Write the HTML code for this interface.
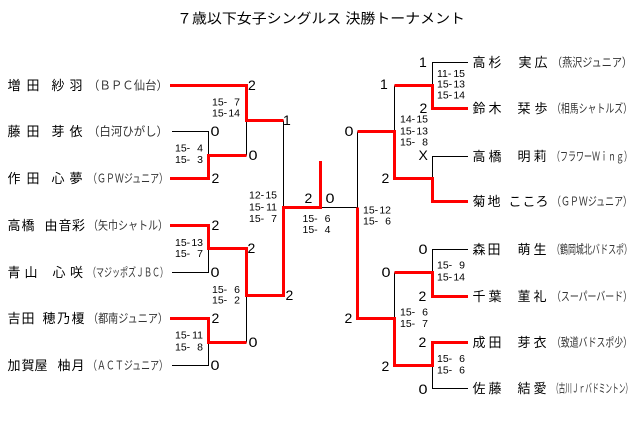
<!DOCTYPE html>
<html><head><meta charset="utf-8"><style>
html,body{margin:0;padding:0;background:#fff;}
svg{display:block;}
.t{font-family:"Liberation Sans","Noto Sans CJK JP",sans-serif;}
.nm{font-family:"Liberation Sans","Noto Sans CJK JP",sans-serif;font-size:13px;fill:#000;}
.cl{font-family:"Liberation Sans","Noto Sans CJK JP",sans-serif;font-size:12px;fill:#333;}
.sc{font-family:"Liberation Sans",sans-serif;font-size:10.5px;fill:#000;}
.dg{font-family:"Liberation Sans",sans-serif;font-size:14px;fill:#000;}
</style></head><body>
<svg width="640" height="429" viewBox="0 0 640 429" xmlns="http://www.w3.org/2000/svg">
<rect width="640" height="429" fill="#fff"/>
<text class="t" x="177" y="23.5" font-size="14" textLength="288" lengthAdjust="spacingAndGlyphs">７歳以下女子シングルス 決勝トーナメント</text>

<!-- black lines -->
<g fill="none" stroke="#000" stroke-width="1">
<path d="M172 131.5 H208.5 V155.5"/>
<path d="M246.5 120.5 V155.5"/>
<path d="M283.5 120.5 V207.5"/>
<path d="M172 272.5 H208.5 V248.5"/>
<path d="M172 365.5 H208.5 V342.5"/>
<path d="M246.5 295.5 V342.5"/>
<path d="M320.5 207.5 H357.5 V131.5"/>
<path d="M468 62.5 H432.5 V85.5"/>
<path d="M394.5 85.5 V131.5"/>
<path d="M468 156.5 H432.5 V178.5"/>
<path d="M468 249.5 H432.5 V272.5"/>
<path d="M394.5 272.5 V318.5"/>
<path d="M468 388.5 H432.5 V365.5"/>
</g>
<!-- red lines -->
<g fill="none" stroke="#ff0000" stroke-width="3" stroke-linejoin="miter">
<path d="M170 85.5 H246.5 V120.5 H283.5"/>
<path d="M170 178.5 H208.5 V155.5 H246.5"/>
<path d="M170 225.5 H208.5 V248.5 H246.5 V295.5 H283.5 V207.5 H320.5 V161"/>
<path d="M170 318.5 H208.5 V342.5 H246.5"/>
<path d="M468 108.5 H432.5 V85.5 H394.5"/>
<path d="M468 201.5 H432.5 V178.5 H394.5 V131.5 H357.5"/>
<path d="M468 296.5 H432.5 V272.5 H394.5"/>
<path d="M468 342.5 H432.5 V365.5 H394.5 V318.5 H357.5 V207.5"/>
</g>

<!-- left names -->
<text class="nm" x="7.5 26.5 40 51.5 69.5" y="90">増田 紗羽</text>
<text class="nm" x="7.5 26.5 40 51.5 69.5" y="136">藤田 芽依</text>
<text class="nm" x="7.5 26.5 40 51.5 69.5" y="183">作田 心夢</text>
<text class="nm" x="7.5 21.5 35 44.5 58.5 72" y="230">高橋 由音彩</text>
<text class="nm" x="7.5 24.5 40 52.5 70" y="277">青山 心咲</text>
<text class="nm" x="7.5 21.5 35 42.5 57 71.5" y="323">吉田 穂乃榎</text>
<text class="nm" x="7.5 21.5 34.5 48 57.5 71.5" y="370">加賀屋 柚月</text>

<!-- left clubs -->
<text class="cl" x="88" y="89.5" textLength="80" lengthAdjust="spacingAndGlyphs">（ＢＰＣ仙台）</text>
<text class="cl" x="88" y="135.5" textLength="80" lengthAdjust="spacingAndGlyphs">（白河ひがし）</text>
<text class="cl" x="88" y="182.5" textLength="80" lengthAdjust="spacingAndGlyphs">（ＧＰＷジュニア）</text>
<text class="cl" x="88" y="229.5" textLength="80" lengthAdjust="spacingAndGlyphs">（矢巾シャトル）</text>
<text class="cl" x="88" y="276.5" textLength="80" lengthAdjust="spacingAndGlyphs">（マジッポズＪＢＣ）</text>
<text class="cl" x="88" y="322.5" textLength="80" lengthAdjust="spacingAndGlyphs">（都南ジュニア）</text>
<text class="cl" x="88" y="369.5" textLength="80" lengthAdjust="spacingAndGlyphs">（ＡＣＴジュニア）</text>

<!-- right names -->
<text class="nm" x="472.5 488.5 505 518.5 534.5" y="67">高杉 実広</text>
<text class="nm" x="472.5 488.5 505 517.5 534.5" y="113">鈴木 栞歩</text>
<text class="nm" x="472.5 488.5 505 517.5 533.5" y="161">高橋 明莉</text>
<text class="nm" x="472.5 487.5 502 508.5 522.5 535.5" y="206">菊地 こころ</text>
<text class="nm" x="472.5 487.5 505 517.5 533.5" y="254">森田 萌生</text>
<text class="nm" x="472.5 488.5 505 517.5 533.5" y="301">千葉 菫礼</text>
<text class="nm" x="472.5 488.5 505 517.5 533.5" y="347">成田 芽衣</text>
<text class="nm" x="472.5 488.5 505 517.5 533.5" y="393">佐藤 結愛</text>

<!-- right clubs -->
<text class="cl" x="552" y="66.5" textLength="80" lengthAdjust="spacingAndGlyphs">（燕沢ジュニア）</text>
<text class="cl" x="552" y="112.5" textLength="80" lengthAdjust="spacingAndGlyphs">（相馬シャトルズ）</text>
<text class="cl" x="552" y="160.5" textLength="80" lengthAdjust="spacingAndGlyphs">（フラワーＷｉｎｇ）</text>
<text class="cl" x="552" y="205.5" textLength="80" lengthAdjust="spacingAndGlyphs">（ＧＰＷジュニア）</text>
<text class="cl" x="552" y="253.5" textLength="80" lengthAdjust="spacingAndGlyphs">（鶴岡城北バドスポ）</text>
<text class="cl" x="552" y="300.5" textLength="80" lengthAdjust="spacingAndGlyphs">（スーパーバード）</text>
<text class="cl" x="552" y="346.5" textLength="80" lengthAdjust="spacingAndGlyphs">（致道バドスポ少）</text>
<text class="cl" x="552" y="392.5" textLength="80" lengthAdjust="spacingAndGlyphs">（古川Ｊｒバドミントン）</text>

<!-- big result digits -->
<g class="dg">
<text x="248" y="90">2</text>
<text x="210.5" y="136" textLength="9" lengthAdjust="spacingAndGlyphs">0</text>
<text x="211.5" y="183">2</text>
<text x="283" y="125">1</text>
<text x="248.5" y="160" textLength="9" lengthAdjust="spacingAndGlyphs">0</text>
<text x="211.5" y="230">2</text>
<text x="210.5" y="277" textLength="9" lengthAdjust="spacingAndGlyphs">0</text>
<text x="247.5" y="253">2</text>
<text x="285.5" y="300">2</text>
<text x="211.5" y="323">2</text>
<text x="248.5" y="347" textLength="9" lengthAdjust="spacingAndGlyphs">0</text>
<text x="210.5" y="370" textLength="9" lengthAdjust="spacingAndGlyphs">0</text>
<text x="304.5" y="203">2</text>
<text x="325.5" y="203" textLength="9" lengthAdjust="spacingAndGlyphs">0</text>
<text x="419" y="67">1</text>
<text x="419.5" y="113">2</text>
<text x="380" y="89">1</text>
<text x="344.5" y="136" textLength="9" lengthAdjust="spacingAndGlyphs">0</text>
<text x="418.5" y="160">X</text>
<text x="381.5" y="183">2</text>
<text x="418.5" y="254" textLength="9" lengthAdjust="spacingAndGlyphs">0</text>
<text x="381.5" y="277" textLength="9" lengthAdjust="spacingAndGlyphs">0</text>
<text x="418.5" y="301">2</text>
<text x="344.5" y="323">2</text>
<text x="418.5" y="347">2</text>
<text x="381.5" y="371">2</text>
<text x="418.5" y="394" textLength="9" lengthAdjust="spacingAndGlyphs">0</text>
</g>

<!-- game scores -->
<g class="sc">
<text x="212" y="105.7">15-</text><text x="240" y="105.7" text-anchor="end">7</text>
<text x="212" y="116.5">15-</text><text x="240" y="116.5" text-anchor="end">14</text>
<text x="175" y="151.7">15-</text><text x="203" y="151.7" text-anchor="end">4</text>
<text x="175" y="163.2">15-</text><text x="203" y="163.2" text-anchor="end">3</text>
<text x="249" y="198.7">12-</text><text x="277" y="198.7" text-anchor="end">15</text>
<text x="249" y="210.3">15-</text><text x="277" y="210.3" text-anchor="end">11</text>
<text x="249" y="222">15-</text><text x="277" y="222" text-anchor="end">7</text>
<text x="175" y="246">15-</text><text x="203" y="246" text-anchor="end">13</text>
<text x="175" y="257">15-</text><text x="203" y="257" text-anchor="end">7</text>
<text x="212" y="293">15-</text><text x="240" y="293" text-anchor="end">6</text>
<text x="212" y="303.7">15-</text><text x="240" y="303.7" text-anchor="end">2</text>
<text x="175" y="338.7">15-</text><text x="203" y="338.7" text-anchor="end">11</text>
<text x="175" y="350.4">15-</text><text x="203" y="350.4" text-anchor="end">8</text>
<text x="302.5" y="222">15-</text><text x="330.5" y="222" text-anchor="end">6</text>
<text x="302.5" y="233">15-</text><text x="330.5" y="233" text-anchor="end">4</text>
<text x="363" y="213.7">15-</text><text x="391" y="213.7" text-anchor="end">12</text>
<text x="363" y="224.4">15-</text><text x="391" y="224.4" text-anchor="end">6</text>
<text x="437" y="77">11-</text><text x="465" y="77" text-anchor="end">15</text>
<text x="437" y="87.7">15-</text><text x="465" y="87.7" text-anchor="end">13</text>
<text x="437" y="98.7">15-</text><text x="465" y="98.7" text-anchor="end">14</text>
<text x="400" y="122.7">14-</text><text x="428" y="122.7" text-anchor="end">15</text>
<text x="400" y="134.7">15-</text><text x="428" y="134.7" text-anchor="end">13</text>
<text x="400" y="145.4">15-</text><text x="428" y="145.4" text-anchor="end">8</text>
<text x="437" y="268.7">15-</text><text x="465" y="268.7" text-anchor="end">9</text>
<text x="437" y="280.4">15-</text><text x="465" y="280.4" text-anchor="end">14</text>
<text x="400" y="315.4">15-</text><text x="428" y="315.4" text-anchor="end">6</text>
<text x="400" y="327">15-</text><text x="428" y="327" text-anchor="end">7</text>
<text x="437" y="362">15-</text><text x="465" y="362" text-anchor="end">6</text>
<text x="437" y="373.7">15-</text><text x="465" y="373.7" text-anchor="end">6</text>
</g>
</svg>
</body></html>
